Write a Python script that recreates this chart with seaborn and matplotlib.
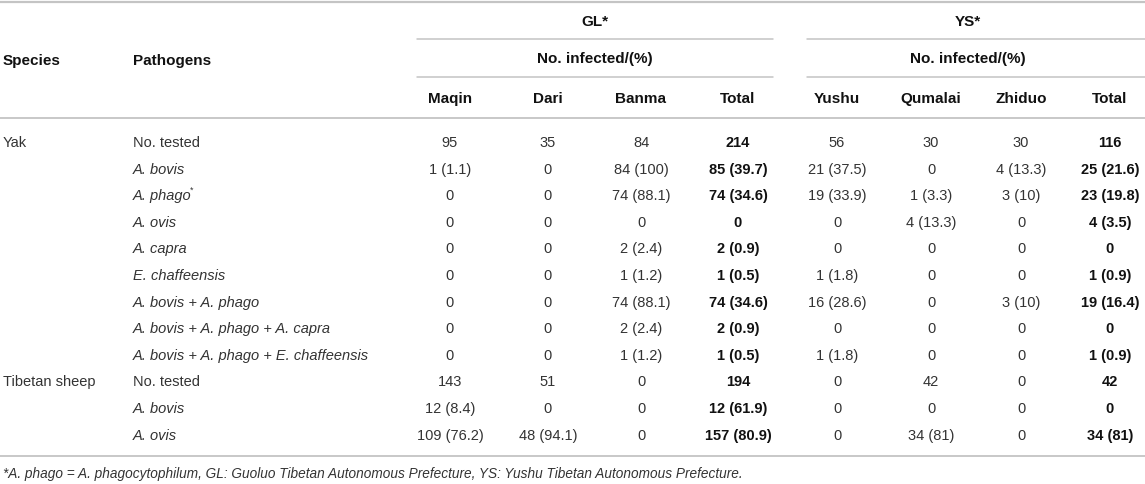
import matplotlib
matplotlib.use("Agg")
import matplotlib.pyplot as plt
import seaborn as sns

# table content
species = ["Yak", "", "", "", "", "", "", "", "", "Tibetan sheep", "", ""]
pathogens = ["No. tested", "A. bovis", "A. phago*", "A. ovis", "A. capra", "E. chaffeensis",
             "A. bovis + A. phago", "A. bovis + A. phago + A. capra",
             "A. bovis + A. phago + E. chaffeensis",
             "No. tested", "A. bovis", "A. ovis"]

regions = ["GL*", "YS*"]
gl_counties = ["Maqin", "Dari", "Banma", "Total"]
ys_counties = ["Yushu", "Qumalai", "Zhiduo", "Total"]

maqin = ["95", "1 (1.1)", "0", "0", "0", "0", "0", "0", "0", "143", "12 (8.4)", "109 (76.2)"]
dari = ["35", "0", "0", "0", "0", "0", "0", "0", "0", "51", "0", "48 (94.1)"]
banma = ["84", "84 (100)", "74 (88.1)", "0", "2 (2.4)", "1 (1.2)", "74 (88.1)", "2 (2.4)",
         "1 (1.2)", "0", "0", "0"]
gl_total = ["214", "85 (39.7)", "74 (34.6)", "0", "2 (0.9)", "1 (0.5)", "74 (34.6)", "2 (0.9)",
            "1 (0.5)", "194", "12 (61.9)", "157 (80.9)"]
yushu = ["56", "21 (37.5)", "19 (33.9)", "0", "0", "1 (1.8)", "16 (28.6)", "0", "1 (1.8)",
         "0", "0", "0"]
qumalai = ["30", "0", "1 (3.3)", "4 (13.3)", "0", "0", "0", "0", "0", "42", "0", "34 (81)"]
zhiduo = ["30", "4 (13.3)", "3 (10)", "0", "0", "0", "3 (10)", "0", "0", "0", "0", "0"]
ys_total = ["116", "25 (21.6)", "23 (19.8)", "4 (3.5)", "0", "1 (0.9)", "19 (16.4)", "0",
            "1 (0.9)", "42", "0", "34 (81)"]

footnote = ("*A. phago = A. phagocytophilum, GL: Guoluo Tibetan Autonomous Prefecture, "
            "YS: Yushu Tibetan Autonomous Prefecture.")

sns.set_style("white")
plt.rcParams["font.family"] = ["Liberation Sans", "DejaVu Sans"]

fig = plt.figure(figsize=(11.45, 4.85), dpi=100)
ax = fig.add_axes([0, 0, 1, 1])
ax.set_xlim(0, 1145)
ax.set_ylim(485, 0)
ax.axis("off")
renderer = fig.canvas.get_renderer()

fs = 10.5
hfs = 11
dark = "#333333"
black = "#111111"
line_c = "#c4c4c4"


def draw_pathogen(x, y, name):
    if name.startswith("No."):
        ax.text(x, y, name, fontsize=fs, va="center", color=dark)
        return
    star = name.endswith("*")
    t = ax.text(x, y, name.rstrip("*"), fontsize=fs, style="italic", va="center", color=dark)
    if star:
        w = t.get_window_extent(renderer).width
        ax.text(x + w - 2, y - 6, "*", fontsize=fs * 0.6, va="center", color=dark)


# horizontal rules
ax.plot([0, 1145], [3, 3], color=line_c, lw=1.6)
ax.plot([0, 1145], [119, 119], color=line_c, lw=1.3)
ax.plot([0, 1145], [457, 457], color=line_c, lw=1.3)
spans = [(417, 773), (807, 1145)]
for x0, x1 in spans:
    for y in (40, 78):
        ax.plot([x0, x1], [y, y], color=line_c, lw=1.1)

ax.text(3, 61, "Species", fontsize=hfs, fontweight="bold", va="center", color=black)
ax.text(133, 61, "Pathogens", fontsize=hfs, fontweight="bold", va="center", color=black)

centers = [(595, regions[0]), (968, regions[1])]
for cx, lab in centers:
    ax.text(cx, 22, lab, fontsize=hfs, fontweight="bold", ha="center", va="center", color=black)
    ax.text(cx, 59, "No. infected/(%)", fontsize=hfs, fontweight="bold", ha="center",
            va="center", color=black)

col_x = [450, 548, 641, 738, 837, 931, 1021, 1110]
columns = [maqin, dari, banma, gl_total, yushu, qumalai, zhiduo, ys_total]
headers = gl_counties + ys_counties
for x, h in zip(col_x, headers):
    ax.text(x, 99, h, fontsize=hfs, fontweight="bold", ha="center", va="center", color=black)

row_y0, row_dy = 143, 26.6
for i in range(len(pathogens)):
    y = row_y0 + i * row_dy
    if species[i]:
        ax.text(3, y, species[i], fontsize=fs, va="center", color=dark)
    draw_pathogen(133, y, pathogens[i])
    for j, (x, col) in enumerate(zip(col_x, columns)):
        bold = headers[j] == "Total"
        ax.text(x, y, col[i], fontsize=fs, ha="center", va="center",
                fontweight="bold" if bold else "normal",
                color=black if bold else dark)

ax.text(3, 474, footnote, fontsize=9.8, style="italic", va="center", color=dark)

fig.savefig("out.png", dpi=100)
